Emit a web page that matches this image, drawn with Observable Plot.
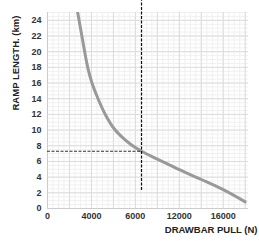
<!DOCTYPE html>
<html><head><meta charset="utf-8">
<script src="https://cdn.jsdelivr.net/npm/d3@7"></script>
<script src="https://cdn.jsdelivr.net/npm/@observablehq/plot@0.6"></script>
<style>body{margin:0;background:#fff}svg{font-family:"Liberation Sans",Arial,sans-serif}</style>
</head><body><div id="chart"></div>
<script>
const pullN = [2750, 3130, 3660, 4050, 4600, 5300, 6000, 6645, 7560, 8560, 10000, 11200, 12000, 14000, 16000, 18000];
const rampKm = [25, 22, 18, 16, 14, 11.9, 10.3, 9.3, 8.2, 7.3, 6.3, 5.5, 4.95, 3.7, 2.4, 0.85];
const xTicks = [0, 4000, 8000, 12000, 16000];
const xTickLabels = ["0", "4000", "6000", "12000", "16000"];
const yTicks = [0, 2, 4, 6, 8, 10, 12, 14, 16, 18, 20, 22, 24];
const markPull = 8560, markRamp = 7.3, markBottom = 2.3, markTop = 26.5;

const curve = pullN.map((x, i) => ({x, y: rampKm[i]}));
const xMajor = d3.range(0, 18001, 2000);
const xMinor = d3.range(0, 18301, 500);
const yMajor = d3.range(0, 25.01, 2);
const yMinor = d3.range(0, 25.01, 0.5);

const chart = Plot.plot({
  width: 259, height: 241,
  marginLeft: 47, marginRight: 11, marginTop: 12, marginBottom: 33,
  x: {domain: [0, 18300], label: null, axis: null},
  y: {domain: [0, 25], label: null, axis: null},
  style: {fontSize: "9px", fontWeight: "bold", color: "#333"},
  marks: [
    Plot.ruleX(xMinor, {stroke: "#f0f0f0", strokeWidth: 1}),
    Plot.ruleY(yMinor, {stroke: "#f0f0f0", strokeWidth: 1}),
    Plot.ruleX(xMajor, {stroke: "#dcdcdc", strokeWidth: 1}),
    Plot.ruleY(yMajor, {stroke: "#dcdcdc", strokeWidth: 1}),
    Plot.ruleX([0], {stroke: "#ccc"}),
    Plot.ruleY([0], {stroke: "#ccc"}),
    Plot.axisX({ticks: xTicks, tickFormat: d => xTickLabels[xTicks.indexOf(d)], tickSize: 0, tickPadding: 4, fill: "#333", label: null}),
    Plot.axisY({ticks: yTicks, tickSize: 0, tickPadding: 6, fill: "#333", label: null}),
    Plot.line(curve, {x: "x", y: "y", stroke: "#999", strokeWidth: 3, curve: "catmull-rom", clip: true}),
    Plot.ruleY([markRamp], {x1: 0, x2: markPull, stroke: "#333", strokeWidth: 1.2, strokeDasharray: "3,1.5"}),
    Plot.ruleX([markPull], {y1: markBottom, y2: markTop, stroke: "#111", strokeWidth: 1.2, strokeDasharray: "3,1.5", clip: false}),
    Plot.text(["DRAWBAR PULL (N)"], {frameAnchor: "bottom-right", dx: 9, dy: 21, lineAnchor: "middle", textAnchor: "end", fill: "#222", fontSize: 9.5, fontWeight: "bold"}),
    Plot.text(["RAMP LENGTH. (km)"], {frameAnchor: "left", dx: -32, rotate: -90, fill: "#222", fontSize: 9.5, fontWeight: "bold"})
  ]
});
document.getElementById("chart").appendChild(chart);
</script></body></html>
